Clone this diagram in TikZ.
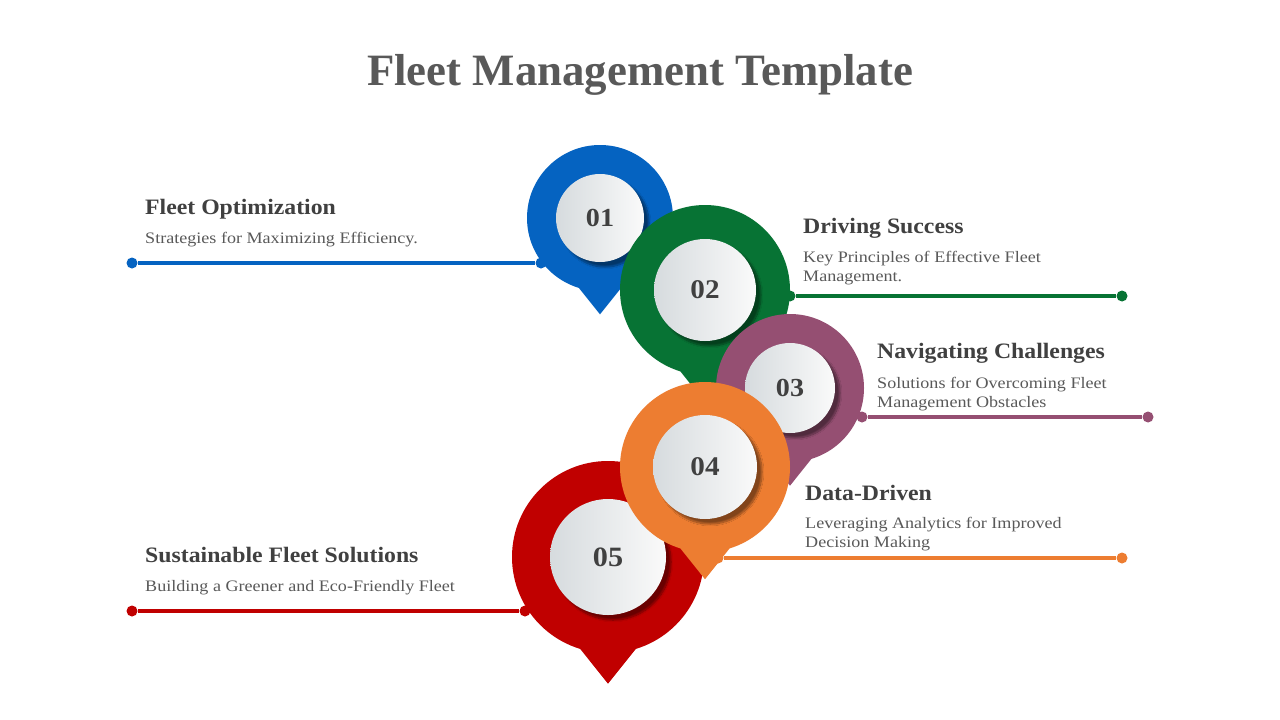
\documentclass[tikz,border=0pt]{standalone}
\usepackage{fontspec}
\setmainfont{Liberation Serif}[FakeStretch=1.08]
\newfontfamily\descfont{Liberation Serif}[FakeStretch=1.13]
\newfontfamily\titlefont{Liberation Serif}
\usetikzlibrary{shadows.blur,calc}
\definecolor{cblue}{RGB}{5,99,193}
\definecolor{cgreen}{RGB}{7,115,52}
\definecolor{cpurple}{RGB}{149,79,114}
\definecolor{corange}{RGB}{237,125,49}
\definecolor{cred}{RGB}{192,0,0}
\definecolor{thead}{RGB}{64,64,64}
\definecolor{tdesc}{RGB}{89,89,89}
\definecolor{innerL}{RGB}{214,219,222}
\definecolor{innerR}{RGB}{250,250,250}
\tikzset{
  headtxt/.style={anchor=base west, inner sep=0pt, text=thead, font=\fontsize{22}{26}\selectfont\bfseries},
  desctxt/.style={anchor=base west, inner sep=0pt, text=tdesc, align=left, font=\descfont\fontsize{16}{19}\selectfont},
  enddot/.style={circle, fill=#1, minimum size=11pt, inner sep=0pt},
  conn/.style={draw=#1, line width=3.2pt},
  innerdisc/.style={circle, inner sep=0pt, left color=innerL, right color=innerR, text=thead,
     blur shadow={shadow xshift=5pt, shadow yshift=-5pt, shadow opacity=45, shadow blur steps=12}},
}
% #1 name, #2 x, #3 y, #4 outer R, #5 inner r, #6 colour, #7 label, #8 number size
\newcommand\pinmark[8]{%
  \coordinate (#1c) at (#2,#3);
  \coordinate (#1t) at (#2,#3+1.32*#4);
  \coordinate (#1a) at (#2-0.29*#4,#3+0.957*#4);
  \coordinate (#1b) at (#2+0.29*#4,#3+0.957*#4);
  \coordinate (#1m) at (#2,#3+0.8*#4);
  \fill[#6] (#1c) circle[radius=#4];
  \fill[#6] (#1a) -- (#1t) -- (#1b) -- (#1m) -- cycle;
  \node[innerdisc, minimum size=2*#5pt, font=\fontsize{#8}{#8}\selectfont\bfseries] (#1n) at (#1c) {#7};
}
\begin{document}
\begin{tikzpicture}[x=1pt,y=-1pt]
\useasboundingbox (0,0) rectangle (1280,720);
\fill[white] (0,0) rectangle (1280,720);

\node[anchor=base, inner sep=0pt, text=tdesc, font=\titlefont\fontsize{44.8}{50}\selectfont\bfseries] (title) at (640,85) {Fleet Management Template};

% connectors (behind pins)
\node[enddot=cblue] (b1) at (132,263) {};
\node[enddot=cblue] (b2) at (541,263) {};
\draw[conn=cblue] (b1) -- (b2);
\node[enddot=cgreen] (g1) at (790,296) {};
\node[enddot=cgreen] (g2) at (1122,296) {};
\draw[conn=cgreen] (g1) -- (g2);
\node[enddot=cpurple] (p1) at (862,417) {};
\node[enddot=cpurple] (p2) at (1148,417) {};
\draw[conn=cpurple] (p1) -- (p2);
\node[enddot=corange] (o1) at (718,558) {};
\node[enddot=corange] (o2) at (1122,558) {};
\draw[conn=corange] (o1) -- (o2);
\node[enddot=cred] (r1) at (132,611) {};
\node[enddot=cred] (r2) at (525,611) {};
\draw[conn=cred] (r1) -- (r2);

% pins
\pinmark{pa}{600}{218}{73}{44}{cblue}{01}{26}
\pinmark{pb}{705}{290}{85}{51}{cgreen}{02}{27}
\pinmark{pc}{790}{388}{74}{45}{cpurple}{03}{26}
\pinmark{pe}{608}{557}{96}{58}{cred}{05}{28}
\pinmark{pd}{705}{467}{85}{52}{corange}{04}{27}

% texts
\node[headtxt] (h1) at (145,214) {Fleet Optimization};
\node[desctxt] (d1) at (145,243) {Strategies for Maximizing Efficiency.};
\node[headtxt] (h2) at (803,233) {Driving Success};
\node[desctxt] (d2) at (803,281) {Key Principles of Effective Fleet\\Management.};
\node[headtxt] (h3) at (877,358) {Navigating Challenges};
\node[desctxt] (d3) at (877,407) {Solutions for Overcoming Fleet\\Management Obstacles};
\node[headtxt] (h4) at (805,500) {Data-Driven};
\node[desctxt] (d4) at (805,547) {Leveraging Analytics for Improved\\Decision Making};
\node[headtxt] (h5) at (145,562) {Sustainable Fleet Solutions};
\node[desctxt] (d5) at (145,591) {Building a Greener and Eco-Friendly Fleet};
\end{tikzpicture}
\end{document}
